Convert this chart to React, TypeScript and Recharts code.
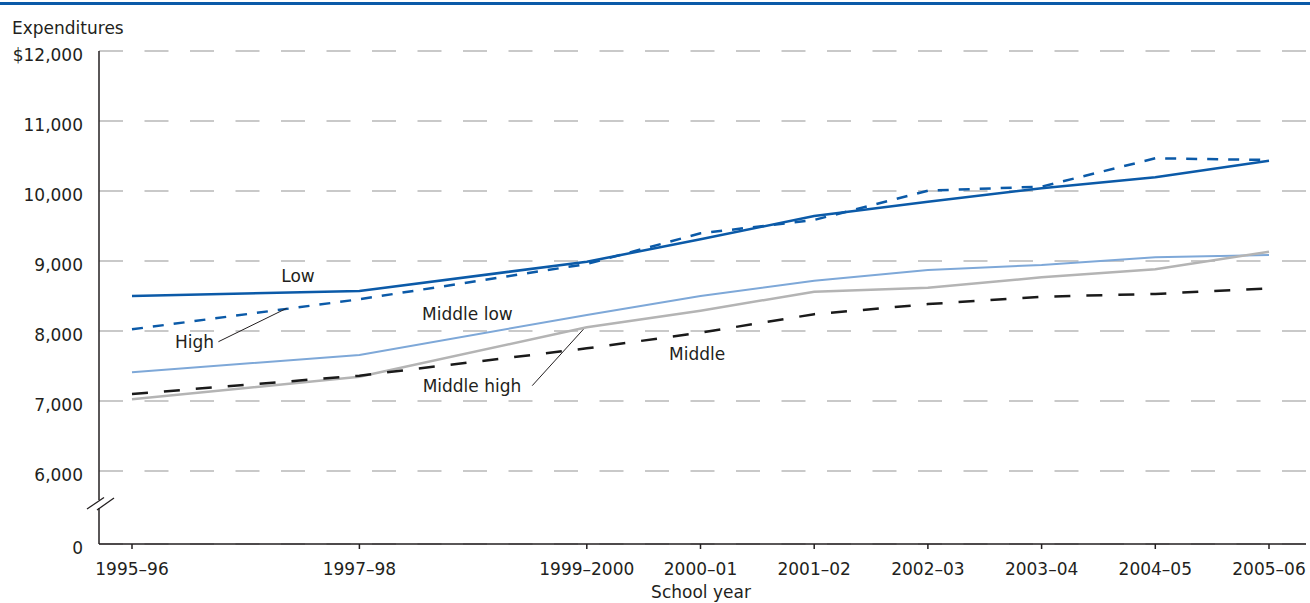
import { LineChart, Line, XAxis, YAxis, CartesianGrid, ReferenceLine, ReferenceDot } from 'recharts';

// school years on the x axis (start year drives the numeric position)
const schoolYears = ['1995–96', '1997–98', '1999–2000', '2000–01', '2001–02', '2002–03', '2003–04', '2004–05', '2005–06'];
const startYears = [1995, 1997, 1999, 2000, 2001, 2002, 2003, 2004, 2005];

// expenditures per student, by poverty group
const low = [8500, 8570, 8990, 9310, 9643, 9848, 10038, 10195, 10433];
const high = [8024, 8453, 8957, 9395, 9586, 10005, 10062, 10467, 10443];
const middleLow = [7410, 7657, 8229, 8500, 8719, 8871, 8943, 9052, 9086];
const middle = [7100, 7362, 7752, 7976, 8240, 8384, 8490, 8529, 8610];
const middleHigh = [7024, 7347, 8052, 8290, 8562, 8619, 8767, 8881, 9133];

// axis break: the bottom of the plot stands in for 0
const Y_FLOOR = 4957;
const yTicks = [Y_FLOOR, 6000, 7000, 8000, 9000, 10000, 11000, 12000];

const data = startYears.map((year, i) => ({
  year,
  low: low[i],
  high: high[i],
  middleLow: middleLow[i],
  middle: middle[i],
  middleHigh: middleHigh[i],
}));

const FONT = '"DejaVu Sans", sans-serif';
const INK = '#231f20';
const BLUE = '#0b5aa8';

const fmtY = (v: number) => {
  if (v === Y_FLOOR) return '0';
  if (v === 12000) return '$12,000';
  return v.toLocaleString('en-US');
};

const fmtX = (v: number) => schoolYears[startYears.indexOf(v)] ?? '';

const YTick = (p: any) => (
  <text x={p.x} y={p.y} dy={4} textAnchor="end" dominantBaseline="central" fontSize={17} fontFamily={FONT} fill={INK}>
    {fmtY(p.payload.value)}
  </text>
);

const lbl = (value: string) => ({ value, position: 'center' as const, fill: INK, fontSize: 17, fontFamily: FONT });

export default function App() {
  return (
    <div style={{ position: 'absolute', left: 0, top: 0, width: 1310, height: 603, background: '#fff', overflow: 'hidden' }}>
      <LineChart width={1310} height={603} data={data} margin={{ top: 51, right: 4, bottom: 19, left: 0 }}>
        <CartesianGrid vertical={false} stroke="#b8b8b8" strokeWidth={1.5} strokeDasharray="24 21.5" />
        <XAxis
          type="number"
          dataKey="year"
          domain={[1995, 2005]}
          ticks={startYears}
          tickFormatter={fmtX}
          interval={0}
          padding={{ left: 33, right: 37 }}
          height={40}
          tickSize={5}
          tickMargin={14}
          stroke={INK}
          strokeWidth={1.5}
          tick={{ fill: INK, fontSize: 17, fontFamily: FONT }}
        />
        <YAxis
          type="number"
          domain={[Y_FLOOR, 12000]}
          ticks={yTicks}
          interval={0}
          width={99}
          tickSize={0}
          tickMargin={16}
          tickLine={false}
          stroke={INK}
          strokeWidth={1.5}
          tick={YTick}
        />
        <Line dataKey="middleLow" stroke="#7ea8d8" strokeWidth={2} dot={false} isAnimationActive={false} />
        <Line dataKey="middleHigh" stroke="#b4b4b4" strokeWidth={2.5} dot={false} isAnimationActive={false} />
        <Line dataKey="middle" stroke="#1a1a1a" strokeWidth={2.5} strokeDasharray="16 16" dot={false} isAnimationActive={false} />
        <Line dataKey="high" stroke={BLUE} strokeWidth={2.5} strokeDasharray="11 10" dot={false} isAnimationActive={false} />
        <Line dataKey="low" stroke={BLUE} strokeWidth={2.5} dot={false} isAnimationActive={false} />

        {/* leader lines */}
        <ReferenceLine segment={[{ x: 1995.76, y: 7847 }, { x: 1996.36, y: 8324 }]} stroke={INK} strokeWidth={1} />
        <ReferenceLine segment={[{ x: 1998.52, y: 7219 }, { x: 1998.97, y: 8024 }]} stroke={INK} strokeWidth={1} />

        {/* series labels */}
        <ReferenceDot x={1996.46} y={8790} r={0} stroke="none" fill="none" label={lbl('Low')} />
        <ReferenceDot x={1995.55} y={7843} r={0} stroke="none" fill="none" label={lbl('High')} />
        <ReferenceDot x={1997.95} y={8245} r={0} stroke="none" fill="none" label={lbl('Middle low')} />
        <ReferenceDot x={1999.97} y={7671} r={0} stroke="none" fill="none" label={lbl('Middle')} />
        <ReferenceDot x={1997.99} y={7218} r={0} stroke="none" fill="none" label={lbl('Middle high')} />
      </LineChart>

      <svg width={1310} height={603} style={{ position: 'absolute', left: 0, top: 0, pointerEvents: 'none' }}>
        <rect x={0} y={2} width={1310} height={3} fill={BLUE} />
        <text x={12} y={34} fontSize={17} fontFamily={FONT} fill={INK}>Expenditures</text>
        <text x={701} y={598} fontSize={17} fontFamily={FONT} fill={INK} textAnchor="middle">School year</text>
        {/* axis break */}
        <rect x={96} y={500} width={6} height={8} fill="#fff" />
        <line x1={87} y1={509} x2={104} y2={497.5} stroke={INK} strokeWidth={1.3} />
        <line x1={97} y1={510} x2={114} y2={498} stroke={INK} strokeWidth={1.3} />
      </svg>
    </div>
  );
}
